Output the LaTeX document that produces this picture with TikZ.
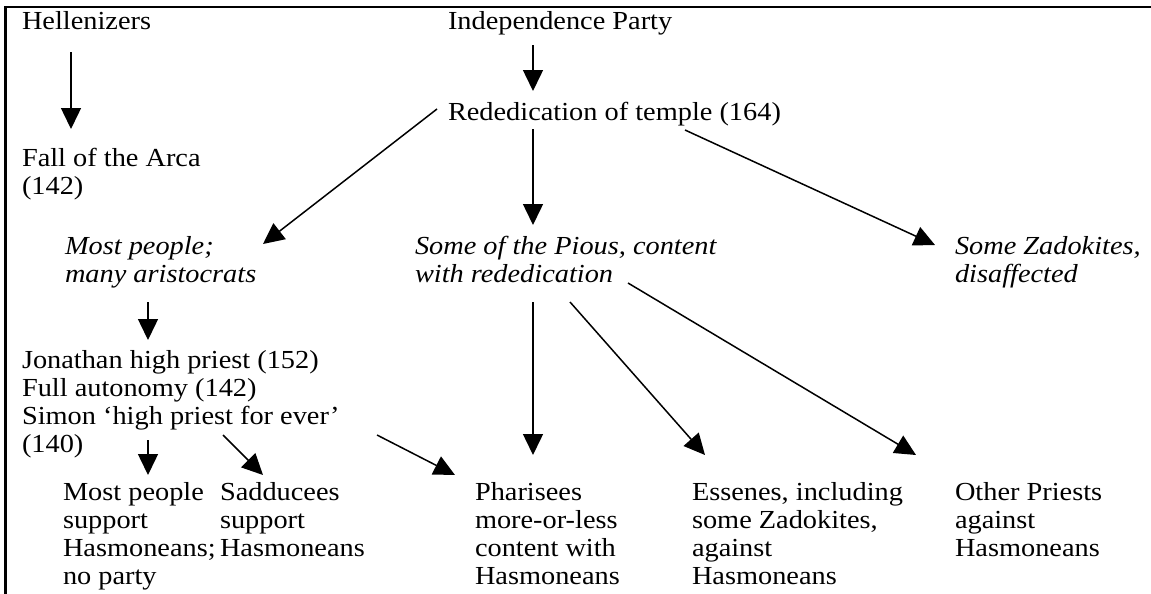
\documentclass[tikz,border=0pt]{standalone}
\usepackage{fontspec}
\setmainfont[FakeStretch=1.09]{Liberation Serif}
\usetikzlibrary{arrows.meta}
\begin{document}
\begin{tikzpicture}[x=0.5pt,y=-0.5pt,
  lbl/.style={inner sep=0pt,outer sep=0pt,anchor=base west,align=left,
    font=\fontsize{13pt}{14.15pt}\selectfont},
  ilbl/.style={lbl,font=\fontsize{13pt}{14.15pt}\selectfont\itshape},
  conn/.style={line width=0.75pt,-{Triangle[length=10.5pt,width=10pt]}},
  frame/.style={line width=1.4pt}]
\useasboundingbox (0,0) rectangle (1151,594);
\draw[frame] (5.5,594) -- (5.5,7) -- (1151,7);
% nodes (anchor = baseline of the last line)
\node[lbl] (hel) at (22,29) {Hellenizers};
\node[lbl] (ind) at (448,29) {Independence Party};
\node[lbl] (red) at (448,120) {Rededication of temple (164)};
\node[lbl] (arca) at (22,194.3) {Fall of the Arca\\(142)};
\node[ilbl] (most) at (65,282.3) {Most people;\\many aristocrats};
\node[ilbl] (pious) at (415,282.3) {Some of the Pious, content\\with rededication};
\node[ilbl] (zad) at (955,282.3) {Some Zadokites,\\disaffected};
\node[lbl] (jon) at (22,452.9) {Jonathan high priest (152)\\Full autonomy (142)\\Simon ‘high priest for ever’\\(140)};
\node[lbl] (mp) at (63,584.9) {Most people\\support\\Hasmoneans;\\no party};
\node[lbl] (sad) at (220,556.6) {Sadducees\\support\\Hasmoneans};
\node[lbl] (phar) at (475,584.9) {Pharisees\\more-or-less\\content with\\Hasmoneans};
\node[lbl] (ess) at (692,584.9) {Essenes, including\\some Zadokites,\\against\\Hasmoneans};
\node[lbl] (oth) at (955,556.6) {Other Priests\\against\\Hasmoneans};
% connector end points
\coordinate (helS) at (71,52);   \coordinate (arcaN) at (71,129);
\coordinate (indS) at (533,45);  \coordinate (redN) at (533,91);
\coordinate (redW) at (437,109); \coordinate (mostN) at (263,244);
\coordinate (redS) at (533,129); \coordinate (piousN) at (533,225);
\coordinate (redE) at (685,130); \coordinate (zadN) at (935,245);
\coordinate (mostS) at (148,302); \coordinate (jonN) at (148,340);
\coordinate (jonS1) at (148,440); \coordinate (mpN) at (148,475);
\coordinate (jonS2) at (223,435); \coordinate (sadN) at (263,475);
\coordinate (jonS3) at (377,435); \coordinate (pharN1) at (455,475);
\coordinate (piousS1) at (533,302); \coordinate (pharN2) at (533,455);
\coordinate (piousS2) at (570,302); \coordinate (essN) at (705,455);
\coordinate (piousS3) at (628,283); \coordinate (othN) at (916,455);
% connectors
\draw[conn] (helS) -- (arcaN);
\draw[conn] (indS) -- (redN);
\draw[conn] (redW) -- (mostN);
\draw[conn] (redS) -- (piousN);
\draw[conn] (redE) -- (zadN);
\draw[conn] (mostS) -- (jonN);
\draw[conn] (jonS1) -- (mpN);
\draw[conn] (jonS2) -- (sadN);
\draw[conn] (jonS3) -- (pharN1);
\draw[conn] (piousS1) -- (pharN2);
\draw[conn] (piousS2) -- (essN);
\draw[conn] (piousS3) -- (othN);
\end{tikzpicture}
\end{document}
